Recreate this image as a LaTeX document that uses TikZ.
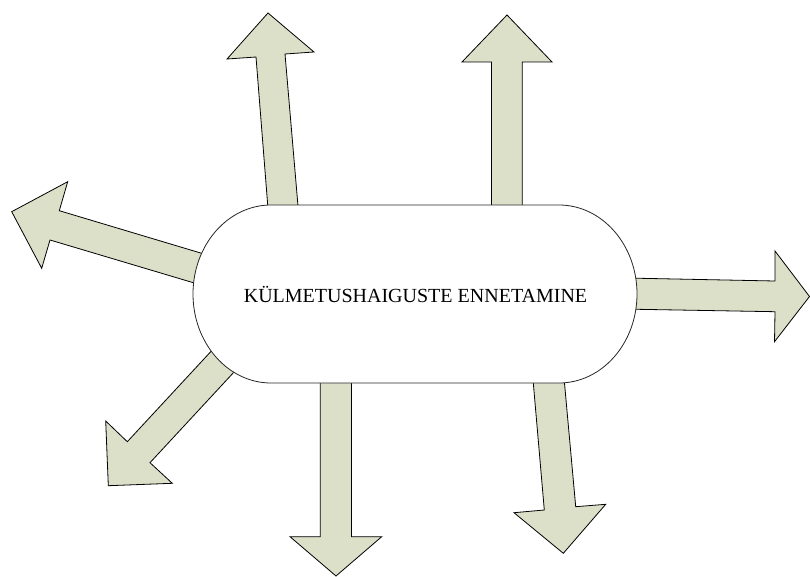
\documentclass[tikz,border=0pt]{standalone}
\usepackage{fontspec}
\setmainfont{Liberation Serif}
\definecolor{arrowfill}{RGB}{221,224,201}
\tikzset{
  blockarrow/.style={fill=arrowfill, draw=black, line width=0.8pt, line join=miter},
  stadium/.style={fill=white, draw=black!85, line width=0.8pt},
  label/.style={font=\fontsize{20}{24}\selectfont, inner sep=0pt}
}
\begin{document}
\begin{tikzpicture}[x=1pt,y=-1pt]
\useasboundingbox (0,0) rectangle (810,577);
% top-left arrow
\draw[blockarrow] (268,13) -- (227,59) -- (256,57) -- (268.5,215) -- (298.6,213) -- (285,54) -- (314,52) -- cycle;
% top arrow
\draw[blockarrow] (507,15) -- (462,62) -- (491.5,62) -- (491.5,215) -- (522.3,215) -- (522.3,62) -- (552,62) -- cycle;
% right arrow
\draw[blockarrow] (620,277.9) -- (775,281) -- (775,251) -- (809.5,296.5) -- (774.5,341.7) -- (775,311.7) -- (620,309) -- cycle;
% left arrow
\draw[blockarrow] (11.7,211.7) -- (67.7,181.7) -- (59.3,210.7) -- (216,257.6) -- (207.7,287) -- (50,240) -- (41.7,268.3) -- cycle;
% lower-left arrow
\draw[blockarrow] (225.9,335.3) -- (248.6,356.3) -- (150,462.7) -- (172.3,483.3) -- (108.3,485.7) -- (105.7,421) -- (127.3,441.7) -- cycle;
% bottom arrow
\draw[blockarrow] (320.3,370) -- (351.5,370) -- (351.5,536.7) -- (381.7,536.7) -- (336,576) -- (290,536.7) -- (320.3,536.7) -- cycle;
% lower-right arrow
\draw[blockarrow] (532,368) -- (563,366.7) -- (575.7,506.7) -- (605.7,504.3) -- (563.3,553.3) -- (514,512.7) -- (544.3,510) -- cycle;
% central shape
\draw[stadium] (271,205) -- (559,205) arc[start angle=90, end angle=-90, x radius=78pt, y radius=89pt]
  -- (271,383) arc[start angle=270, end angle=90, x radius=78pt, y radius=89pt] -- cycle;
\node[label] (centre) at (415.5,294) {KÜLMETUSHAIGUSTE ENNETAMINE};
\end{tikzpicture}
\end{document}
